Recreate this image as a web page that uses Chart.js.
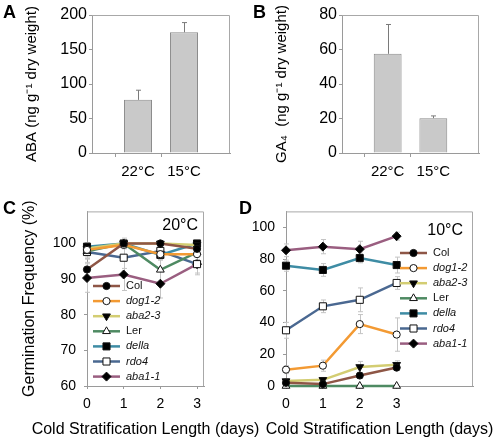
<!DOCTYPE html>
<html lang="en">
<head>
<meta charset="UTF-8">
<title>ABA, GA4 and germination</title>
<style>
  body { margin: 0; background: #fff; }
  #wrap { position: relative; width: 498px; height: 439px; overflow: hidden; font-family: 'Liberation Sans', Arial, sans-serif; }
  canvas { position: absolute; }
  .tag { position: absolute; font-weight: bold; font-size: 18px; line-height: 1; color: #000; }
</style>
</head>
<body>
<div id="wrap">
  <canvas id="chartA" width="250" height="195" style="left:0;top:0"></canvas>
  <canvas id="chartB" width="248" height="195" style="left:250px;top:0"></canvas>
  <canvas id="chartC" width="262" height="244" style="left:0;top:195px"></canvas>
  <canvas id="chartD" width="248" height="244" style="left:250px;top:195px"></canvas>
  <div class="tag" style="left:3px;top:3px">A</div>
  <div class="tag" style="left:253px;top:3px">B</div>
  <div class="tag" style="left:3px;top:199px">C</div>
  <div class="tag" style="left:239px;top:199px">D</div>
</div>

<script src="https://cdn.jsdelivr.net/npm/chart.js"></script>
<script>
  // bar panels (empty categories at both ends keep the bars in the middle)
  const barCats = ['', '22°C', '15°C', ''];
  const abaValues = [null, 77, 175, null];
  const abaErrors = [null, 14, 14, null];
  const ga4Values = [null, 57.5, 20.2, null];
  const ga4Errors = [null, 17, 1.3, null];

  // germination panels
  const days = [0, 1, 2, 3];
  const lines = ['Col', 'dog1-2', 'aba2-3', 'Ler', 'della', 'rdo4', 'aba1-1'];
  const germ20 = [
    [92.7, 100, 100, 98.5],
    [98.2, 99.6, 97.0, 97.0],
    [98.6, 100, 100, 99.6],
    [97.8, 100, 92.6, 97.5],
    [99.1, 100, 96.8, 100],
    [97.6, 96.0, 97.9, 94.2],
    [90.3, 91.3, 88.7, 94.2]
  ];
  const err20 = [
    [2, 0.5, 0.5, 1.5],
    [2, 1, 1.5, 1.5],
    [1, 0.5, 0.5, 1],
    [2, 1.5, 3.5, 2],
    [1, 0.5, 1.5, 0.5],
    [2, 3, 2, 2.5],
    [4, 4.5, 4, 3]
  ];
  const germ10 = [
    [2.0, 1.2, 6.6, 11.6],
    [10.3, 12.8, 39.0, 32.4],
    [3.1, 3.9, 12.0, 13.4],
    [0, 0, 0, 0],
    [75.8, 73.1, 80.6, 76.2],
    [35.1, 50.2, 54.3, 64.9],
    [85.5, 87.8, 86.2, 94.4]
  ];
  const err10 = [
    [1, 0.8, 1.5, 1.5],
    [2.5, 3.5, 6, 10.5],
    [1.5, 1.5, 3.5, 2.5],
    [0, 0, 0, 0],
    [3.5, 4, 3, 5],
    [5, 4, 7.5, 4],
    [4, 4.5, 5, 2.5]
  ];

  // look of each line: colour, marker, open/filled, italic label
  const lineStyle = [
    { color: '#8E5646', shape: 'circle', r: 3.6, open: false, it: false },
    { color: '#F39A33', shape: 'circle', r: 3.6, open: true, it: true },
    { color: '#D3CD72', shape: 'triangle', r: 4.5, rot: 180, open: false, it: true },
    { color: '#4E8A62', shape: 'triangle', r: 4.5, open: true, it: false },
    { color: '#3E8CA4', shape: 'rect', r: 5, open: false, it: true },
    { color: '#4A6891', shape: 'rect', r: 5, open: true, it: true },
    { color: '#9A5E80', shape: 'rectRot', r: 4.5, open: false, it: true }
  ];

  const FONT = "'Liberation Sans', Arial, sans-serif";
  Chart.defaults.font.family = FONT;
  Chart.defaults.color = '#000';
  const AXIS = '#9a9a9a';

  // top + right border of the plot box
  const frame = {
    id: 'frame',
    afterDraw(chart) {
      const a = chart.chartArea, c = chart.ctx;
      c.save();
      c.strokeStyle = '#a8a8a8';
      c.lineWidth = 1;
      c.beginPath();
      c.moveTo(a.left, a.top + 0.5);
      c.lineTo(a.right - 0.5, a.top + 0.5);
      c.lineTo(a.right - 0.5, a.bottom);
      c.stroke();
      c.restore();
    }
  };

  function drawErrors(chart, o) {
    const c = chart.ctx, ys = chart.scales.y;
    c.save();
    c.strokeStyle = o.color;
    c.lineWidth = 1;
    chart.data.datasets.forEach((ds, di) => {
      if (!ds.errors) return;
      const meta = chart.getDatasetMeta(di);
      meta.data.forEach((el, i) => {
        const p = meta.controller.getParsed(i);
        const e = ds.errors[i];
        if (!p || p.y == null || isNaN(p.y) || !e) return;
        const x = Math.round(el.x) + 0.5;
        const top = ys.getPixelForValue(p.y + e);
        const bot = o.up ? ys.getPixelForValue(p.y) : ys.getPixelForValue(p.y - e);
        c.beginPath();
        c.moveTo(x, top); c.lineTo(x, bot);
        c.moveTo(x - o.cap, top); c.lineTo(x + o.cap, top);
        if (!o.up) { c.moveTo(x - o.cap, bot); c.lineTo(x + o.cap, bot); }
        c.stroke();
      });
    });
    c.restore();
  }

  const errorBars = {
    id: 'errorBars',
    beforeDatasetsDraw(chart, args, o) { if (o.behind) drawErrors(chart, o); },
    afterDatasetsDraw(chart, args, o) { if (!o.behind) drawErrors(chart, o); }
  };

  // legend drawn inside the plot: line, marker, label
  const lineLegend = {
    id: 'lineLegend',
    afterDraw(chart, args, o) {
      if (!o.show) return;
      const c = chart.ctx;
      chart.data.datasets.forEach((ds, i) => {
        const y = o.y + i * o.gap;
        c.save();
        c.strokeStyle = ds.borderColor;
        c.lineWidth = ds.borderWidth;
        c.beginPath();
        c.moveTo(o.x, y); c.lineTo(o.x + o.len, y);
        c.stroke();
        c.fillStyle = ds.pointBackgroundColor;
        c.strokeStyle = ds.pointBorderColor;
        c.lineWidth = ds.pointBorderWidth;
        Chart.helpers.drawPoint(c, {
          pointStyle: ds.pointStyle, rotation: ds.pointRotation || 0,
          radius: ds.pointRadius, borderWidth: ds.pointBorderWidth
        }, o.x + o.len / 2, y);
        c.fillStyle = '#111';
        c.font = (ds.italic ? 'italic ' : '') + '11px ' + FONT;
        c.textBaseline = 'middle';
        c.textAlign = 'left';
        c.fillText(ds.label, o.x + o.len + 6, y);
        c.restore();
      });
    }
  };

  // temperature note in the corner and the x caption under the axis
  const panelText = {
    id: 'panelText',
    afterDraw(chart, args, o) {
      if (!o.temp) return;
      const a = chart.chartArea, c = chart.ctx;
      c.save();
      c.font = '16px ' + FONT;
      c.fillStyle = '#000';
      c.textBaseline = 'middle';
      c.textAlign = 'right';
      c.fillText(o.temp, a.right - o.dx, a.top + o.dy);
      c.textAlign = 'center';
      c.fillText(o.caption, (a.left + a.right) / 2, a.bottom + o.capY);
      c.restore();
    }
  };

  Chart.register(frame, errorBars, lineLegend, panelText);

  function barChart(id, values, errors, yMax, yStep, yTitle, padRight) {
    return new Chart(document.getElementById(id), {
      type: 'bar',
      data: {
        labels: barCats,
        datasets: [{
          data: values,
          errors: errors,
          backgroundColor: '#c9c9c9',
          borderColor: '#8a8a8a',
          borderWidth: 1,
          categoryPercentage: 1,
          barPercentage: 0.61
        }]
      },
      options: {
        responsive: false,
        animation: false,
        devicePixelRatio: 1,
        layout: { padding: { top: 15, right: padRight, left: 0, bottom: 0 } },
        plugins: {
          legend: { display: false },
          tooltip: { enabled: false },
          errorBars: { up: true, color: '#7a7a7a', cap: 2.5, behind: false }
        },
        scales: {
          x: {
            offset: false,
            border: { color: AXIS },
            grid: {
              drawOnChartArea: false, tickLength: 4,
              color: ctx => (ctx.index === 1 || ctx.index === 2) ? AXIS : 'rgba(0,0,0,0)'
            },
            ticks: { font: { size: 15 }, padding: 6, maxRotation: 0 },
            afterFit: s => { s.height = 42; }
          },
          y: {
            min: 0, max: yMax,
            border: { color: AXIS },
            grid: { drawOnChartArea: false, tickLength: 3, color: AXIS },
            ticks: { stepSize: yStep, font: { size: 16 }, padding: 2 },
            title: { display: true, text: yTitle, font: { size: 15 }, padding: { top: 23, bottom: 0 } },
            afterFit: s => { s.width = 92; }
          }
        }
      }
    });
  }

  function lineChart(id, values, errors, yMin, yMax, yStep, xMax, yTitle, yWidth, padRight, legendPos, tempText, tempPos) {
    const datasets = lines.map((name, i) => {
      const st = lineStyle[i];
      return {
        label: name,
        italic: st.it,
        data: days.map((d, j) => ({ x: d, y: values[i][j] })),
        errors: errors[i],
        borderColor: st.color,
        borderWidth: 2.5,
        pointStyle: st.shape,
        pointRotation: st.rot || 0,
        pointRadius: st.r,
        pointBackgroundColor: st.open ? '#ffffff' : '#000000',
        pointBorderColor: '#111',
        pointBorderWidth: 1,
        tension: 0,
        clip: false
      };
    });
    return new Chart(document.getElementById(id), {
      type: 'line',
      data: { datasets: datasets },
      options: {
        responsive: false,
        animation: false,
        devicePixelRatio: 1,
        layout: { padding: { top: 14, right: padRight, left: 0, bottom: 0 } },
        plugins: {
          legend: { display: false },
          tooltip: { enabled: false },
          errorBars: { up: false, color: '#c4c4c4', cap: 2.5, behind: true },
          lineLegend: Object.assign({ show: true, gap: 15.1, len: 27 }, legendPos),
          panelText: Object.assign({ temp: tempText, caption: 'Cold Stratification Length (days)', capY: 44 }, tempPos)
        },
        scales: {
          x: {
            type: 'linear', min: 0, max: xMax,
            border: { color: AXIS },
            grid: { drawOnChartArea: false, tickLength: 3, color: AXIS },
            ticks: { font: { size: 14 }, padding: 7 },
            afterBuildTicks: s => { s.ticks = days.map(d => ({ value: d })); },
            afterFit: s => { s.height = 53; }
          },
          y: {
            min: yMin, max: yMax,
            border: { color: AXIS },
            grid: { drawOnChartArea: false, tickLength: 3, color: AXIS },
            ticks: { stepSize: yStep, font: { size: 14 }, padding: 8 },
            afterBuildTicks: s => { s.ticks = s.ticks.filter(t => t.value <= 100); },
            title: { display: !!yTitle, text: yTitle, font: { size: 16 }, padding: { top: 20, bottom: 0 } },
            afterFit: s => { s.width = yWidth; }
          }
        }
      }
    });
  }

  barChart('chartA', abaValues, abaErrors, 200, 50, 'ABA (ng g\u207B\u00B9 dry weight)', 20);
  barChart('chartB', ga4Values, ga4Errors, 80, 20, 'GA\u2084  (ng g\u207B\u00B9 dry weight)', 19);
  lineChart('chartC', germ20, err20, 60, 109, 10, 3.19, 'Germination Frequency (%)', 87, 58,
    { x: 93, y: 91 }, '20°C', { dx: 6, dy: 14 });
  lineChart('chartD', germ10, err10, 0, 110, 20, 5.07, '', 36, 25,
    { x: 150, y: 58 }, '10°C', { dx: 10, dy: 19 });
</script>
</body>
</html>
